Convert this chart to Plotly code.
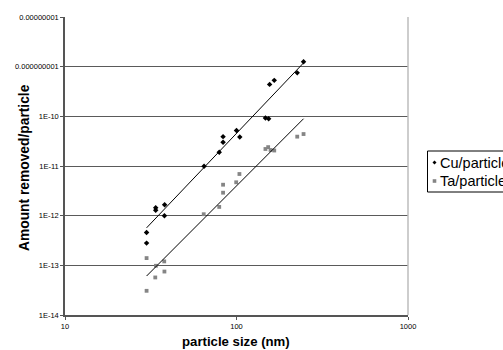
import numpy as np
import plotly.graph_objects as go

# ---- data ----
cu_size = [29.9, 29.9, 33.8, 33.8, 38.1, 38.0, 64.7, 79.3, 83.5, 83.5, 100, 104.5,
           147.5, 154, 156, 166, 226, 246]
cu_amount = [4.6e-13, 2.8e-13, 1.44e-12, 1.29e-12, 1.66e-12, 1.0e-12, 9.9e-12, 1.9e-11,
             3.9e-11, 3.0e-11, 5.2e-11, 3.85e-11, 9.3e-11, 8.9e-11, 4.4e-10, 5.3e-10,
             7.5e-10, 1.26e-9]

ta_size = [29.9, 29.9, 33.9, 33.6, 37.9, 38.0, 64.4, 79.3, 83.5, 83.5, 99.6, 104,
           147.5, 153, 158, 166, 226, 246]
ta_amount = [1.4e-13, 3.07e-14, 9.8e-14, 5.7e-14, 1.2e-13, 7.5e-14, 1.07e-12, 1.5e-12,
             4.2e-12, 2.9e-12, 4.7e-12, 6.9e-12, 2.2e-11, 2.4e-11, 2.1e-11, 2.05e-11,
             3.9e-11, 4.4e-11]

y_tickvals = [1e-14, 1e-13, 1e-12, 1e-11, 1e-10, 1e-9, 1e-8]
y_ticktext = ["1E-14", "1E-13", "1E-12", "1E-11", "1E-10", "0.000000001", "0.00000001"]
x_tickvals = [10, 100, 1000]
x_ticktext = ["10", "100", "1000"]

series_names = ["Cu/particle", "Ta/particle"]

# ---- layout geometry (pixels) ----
W, H = 503, 350
ML, MR, MT, MB = 65, 95, 17, 35
PW = W - ML - MR
PH = H - MT - MB


def fx(px):
    return (px - ML) / PW


def fy(py):
    return (H - MB - py) / PH


def power_fit(x, y):
    lx, ly = np.log10(x), np.log10(y)
    b, a = np.polyfit(lx, ly, 1)
    xs = np.array([min(x), max(x)])
    return xs, 10 ** (a + b * np.log10(xs))


fig = go.Figure()

fig.add_trace(go.Scatter(x=cu_size, y=cu_amount, mode="markers", name=series_names[0],
                         marker=dict(symbol="diamond", size=4.2, color="black"),
                         showlegend=False))
fig.add_trace(go.Scatter(x=ta_size, y=ta_amount, mode="markers", name=series_names[1],
                         marker=dict(symbol="square", size=3.8, color="#858585"),
                         showlegend=False))

for xs, ys in (power_fit(cu_size, cu_amount), power_fit(ta_size, ta_amount)):
    fig.add_trace(go.Scatter(x=xs, y=ys, mode="lines",
                             line=dict(color="black", width=1), showlegend=False,
                             hoverinfo="skip"))

font = "Liberation Sans, Arial, sans-serif"

fig.update_layout(
    width=W, height=H,
    margin=dict(l=ML, r=MR, t=MT, b=MB, autoexpand=False),
    paper_bgcolor="white", plot_bgcolor="white",
    font=dict(family=font, color="black"),
    showlegend=False,
)

fig.update_xaxes(type="log", range=[1, 3], tickvals=x_tickvals, ticktext=x_ticktext,
                 showgrid=False, showline=True, linecolor="#555555", linewidth=1.5,
                 ticks="outside", ticklen=3, tickcolor="#555555",
                 tickfont=dict(size=7.5, family=font), zeroline=False)
fig.update_yaxes(type="log", range=[-14, -8], tickvals=y_tickvals, ticktext=y_ticktext,
                 showgrid=True, gridcolor="#5a5a5a", gridwidth=1.3,
                 showline=True, linecolor="#555555", linewidth=1.5,
                 ticks="outside", ticklen=3, tickcolor="#555555",
                 tickfont=dict(size=7.5, family=font), zeroline=False)

shapes = []
# light gray right border of plot area
shapes.append(dict(type="line", xref="paper", yref="paper", x0=1, x1=1, y0=0, y1=1,
                   line=dict(color="#bdbdbd", width=1.5)))
# legend box
shapes.append(dict(type="rect", xref="paper", yref="paper",
                   x0=fx(427.5), x1=fx(540), y0=fy(192), y1=fy(151),
                   line=dict(color="black", width=1), fillcolor="white", layer="above"))
# legend markers
cx, cy = 434.5, 162.5
shapes.append(dict(type="path", xref="paper", yref="paper",
                   path=f"M {fx(cx)} {fy(cy-2)} L {fx(cx+2)} {fy(cy)} L {fx(cx)} {fy(cy+2)} L {fx(cx-2)} {fy(cy)} Z",
                   fillcolor="black", line=dict(width=0), layer="above"))
sx, sy = 434.5, 181
shapes.append(dict(type="rect", xref="paper", yref="paper",
                   x0=fx(sx - 1.8), x1=fx(sx + 1.8), y0=fy(sy + 1.8), y1=fy(sy - 1.8),
                   fillcolor="#858585", line=dict(width=0), layer="above"))
fig.update_layout(shapes=shapes)

annotations = [
    dict(text="<b>particle size (nm)</b>", xref="paper", yref="paper",
         x=fx(236), y=fy(341), xanchor="center", yanchor="middle", showarrow=False,
         font=dict(size=13.2, family=font)),
    dict(text="<b>Amount removed/particle</b>", xref="paper", yref="paper",
         x=fx(24), y=fy(168), xanchor="center", yanchor="middle", showarrow=False,
         textangle=-90, font=dict(size=13.8, family=font)),
    dict(text=series_names[0], xref="paper", yref="paper",
         x=fx(438), y=fy(162.5), xanchor="left", yanchor="middle", showarrow=False,
         font=dict(size=14.5, family=font)),
    dict(text=series_names[1], xref="paper", yref="paper",
         x=fx(438), y=fy(181), xanchor="left", yanchor="middle", showarrow=False,
         font=dict(size=14.5, family=font)),
]
fig.update_layout(annotations=annotations)

fig.write_html("out.html", config={"displayModeBar": False},
               post_script="document.body.style.margin='0';document.body.style.overflow='hidden';")
